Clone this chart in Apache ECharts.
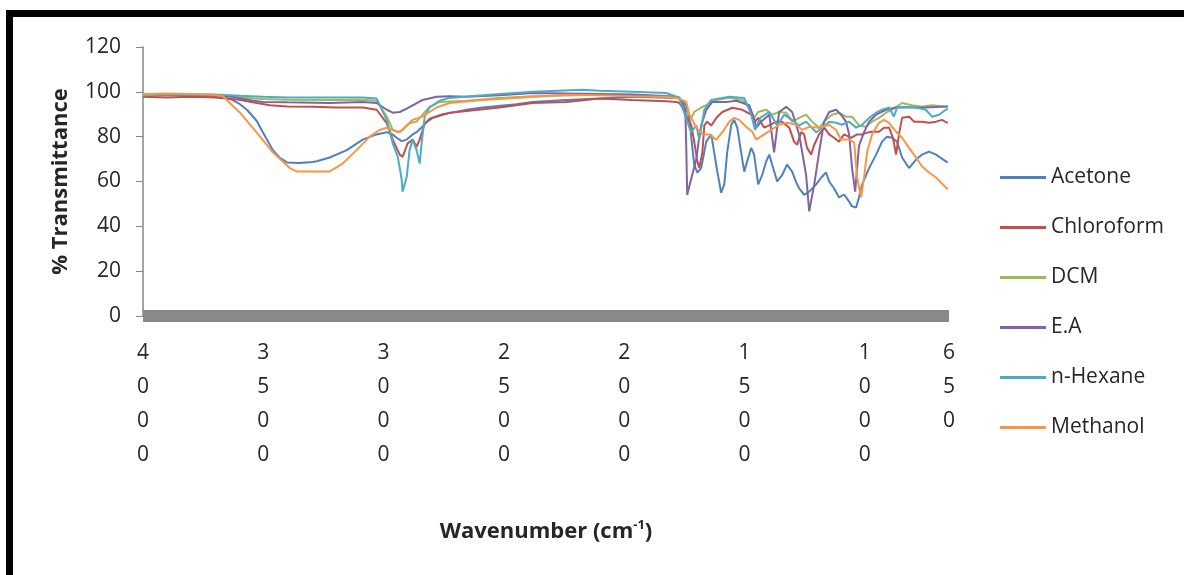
<!DOCTYPE html>
<html>
	<head>
		<meta charset="UTF-8">
		<title>FTIR</title>
		<script src="https://cdn.jsdelivr.net/npm/echarts@6/dist/echarts.min.js"></script>
		<style>
			html, body { margin: 0; padding: 0; background: #fff; }
		</style>
	</head>
	<body>
		<div id="main" style="width: 1184px;height:575px;"></div>
		<script type="text/javascript">
		// [wavenumber, % transmittance]
		var acetone = [[4000,98.5],[3900,98.6],[3800,98.3],[3700,97.8],[3639,97],[3597,94.5],[3568,92],[3527,87],[3502,82],[3460,74],[3431,70.5],[3402,68.5],[3350,68.2],[3294,68.7],[3278,69],[3224,70.7],[3153,74],[3087,78.7],[3029,81],[2987,82],[2962,81],[2946,79.5],[2925,78],[2904,78.7],[2879,81],[2863,82],[2838,84.5],[2809,88],[2755,90],[2726,90.5],[2655,92],[2589,93],[2448,94.5],[2381,95.5],[2240,96.4],[2103,97],[1966,97.8],[1854,97.5],[1783,97.3],[1771,97],[1742,94],[1729,88],[1721,79.5],[1709,67.5],[1696,64],[1680,66],[1659,77.8],[1638,81],[1626,73],[1613,64.4],[1597,55],[1584,58.7],[1572,73],[1555,85.3],[1543,87.5],[1530,84],[1514,73],[1501,64.4],[1489,68.9],[1472,75],[1460,72],[1443,58.7],[1426,63],[1410,68.9],[1397,72],[1385,67.5],[1364,60],[1343,63],[1323,67.5],[1302,64.4],[1285,59.6],[1273,57],[1252,54],[1231,55.5],[1202,58.7],[1181,61.8],[1161,64],[1148,60],[1128,57],[1107,52.9],[1086,54.2],[1065,51],[1053,48.9],[1036,48.4],[1024,53],[1011,58.7],[982,66],[953,72],[928,77.8],[908,80],[887,79.5],[866,77.8],[845,70.7],[816,66],[787,69.8],[762,72],[733,73.3],[704,72],[663,69],[655,68.5]];
		var chloroform = [[4000,97.8],[3900,97.5],[3800,97.8],[3700,97.5],[3600,96.5],[3527,95],[3473,94],[3400,93.5],[3294,93.3],[3200,93],[3087,93],[3029,92],[2987,86],[2962,78.7],[2933,72],[2921,71],[2900,77],[2879,78.7],[2863,75.5],[2850,78.7],[2829,86],[2796,88.4],[2726,90.7],[2655,91.5],[2518,93],[2381,95],[2240,95.5],[2103,97],[1966,96.4],[1825,95.8],[1783,95.5],[1771,95],[1758,93],[1738,88.4],[1721,85],[1709,77.8],[1696,69],[1688,66],[1675,73],[1667,85],[1655,86.7],[1638,85],[1617,88.4],[1592,91],[1551,92.9],[1509,92],[1472,89.8],[1456,86.7],[1443,88.4],[1418,84],[1397,85],[1368,86.7],[1343,86.7],[1314,84],[1294,77.8],[1281,76.4],[1265,82],[1252,81],[1240,75],[1223,72],[1210,76.4],[1190,81],[1169,84],[1148,81],[1128,79.5],[1107,77.8],[1086,81],[1057,79.5],[1032,81],[1011,81],[990,81.8],[970,82.2],[941,82.2],[920,84],[899,84],[883,79.5],[870,72],[858,81],[845,88.4],[816,88.9],[795,86.7],[762,86.7],[733,86.2],[704,86.7],[679,87.5],[659,86.2],[655,86.5]];
		var dcm = [[4000,98.5],[3900,99],[3800,98.8],[3700,98.5],[3600,97.5],[3500,96.8],[3400,96.5],[3224,96.4],[3087,96.5],[3029,96],[2987,89],[2962,83],[2941,82],[2921,83],[2892,86],[2863,86.7],[2838,89.8],[2809,93.3],[2767,95.5],[2655,96],[2518,97.3],[2381,98],[2103,98.7],[1966,98.5],[1812,97.8],[1771,97.3],[1758,95],[1738,91],[1721,88.4],[1709,91],[1680,93],[1659,94],[1617,96.4],[1563,97.3],[1509,96.4],[1480,92.9],[1460,88.4],[1443,91],[1410,92],[1385,89.8],[1356,91],[1327,90.7],[1302,86.7],[1273,88.4],[1244,89.8],[1219,86.7],[1190,84],[1161,87.5],[1136,89.8],[1107,90.7],[1078,88.9],[1053,88.9],[1024,85],[995,84.4],[970,86.7],[941,88.4],[912,90.7],[887,92],[845,95],[804,94],[762,93.3],[721,94],[663,93.3],[655,93.5]];
		var ea = [[4000,99],[3900,99],[3800,98.8],[3700,98.5],[3639,98],[3568,96.5],[3502,95.5],[3400,95.3],[3224,95],[3087,95.5],[3029,95],[2987,92],[2962,90.7],[2933,91],[2904,92.5],[2879,94],[2838,96.4],[2780,97.8],[2726,98],[2655,97.8],[2518,98.5],[2381,99.5],[2103,99],[1966,98.8],[1854,98.2],[1783,97.8],[1771,97.5],[1758,95],[1746,92],[1742,75],[1738,54],[1729,58],[1717,63],[1700,70],[1688,80],[1680,85],[1659,92],[1634,95.5],[1576,95.5],[1534,96],[1480,94],[1460,88],[1451,84],[1431,86.7],[1397,89.8],[1377,73],[1356,91],[1327,93.3],[1302,91],[1273,81],[1244,63],[1231,46.7],[1210,58.7],[1190,73],[1169,86.7],[1148,91],[1119,92],[1099,89.8],[1078,86.7],[1065,81],[1053,66],[1040,55.5],[1032,66],[1024,76],[1003,82],[982,86.7],[953,89.8],[912,92],[870,93],[816,93],[746,93],[663,93.5],[655,93.5]];
		var hexane = [[4000,98.8],[3900,99],[3800,98.8],[3700,98.8],[3600,98.2],[3500,97.8],[3400,97.5],[3224,97.5],[3087,97.5],[3029,97],[2987,87.5],[2962,77],[2941,71],[2925,61],[2921,55.5],[2904,62],[2892,74],[2879,78.7],[2863,74],[2850,68],[2842,77],[2829,89],[2809,93],[2767,96],[2726,97.3],[2589,98.5],[2381,100],[2174,100.9],[2103,100.5],[1966,100],[1825,99.5],[1783,97.8],[1771,97],[1742,88],[1729,84],[1721,82],[1700,85],[1688,78.7],[1667,92],[1638,96.4],[1563,97.8],[1501,97.3],[1472,89.8],[1456,83],[1435,88.4],[1397,91],[1364,85],[1335,89.8],[1302,87.5],[1273,85],[1244,86.7],[1202,82],[1177,84],[1148,86.7],[1119,86.2],[1095,85.3],[1065,86.7],[1036,84],[1011,85.3],[982,88.4],[953,90.7],[928,92],[899,93],[879,88.9],[866,93],[829,93.3],[787,93],[746,92],[721,88.9],[692,89.8],[663,92],[655,92.5]];
		var methanol = [[4000,99],[3900,99.3],[3800,99],[3700,98.7],[3668,98],[3597,90.7],[3527,81.8],[3460,73],[3390,66],[3361,64.5],[3294,64.5],[3224,64.5],[3170,68],[3112,74],[3058,80],[3016,83],[2987,84],[2962,83],[2933,82],[2904,85],[2879,87.5],[2838,89],[2780,93],[2726,95],[2589,96.4],[2448,97.3],[2240,98.7],[2103,98.5],[1966,98],[1825,97.8],[1771,97],[1742,95.5],[1729,89.8],[1700,84],[1675,81],[1646,81],[1617,78.7],[1592,82],[1563,86.7],[1543,88.4],[1522,87.5],[1493,84.4],[1468,82.2],[1451,78.7],[1418,81],[1389,83],[1356,85.3],[1323,86.2],[1285,85.3],[1260,83],[1231,84.4],[1190,84],[1148,85.3],[1119,83],[1099,78.7],[1065,78.7],[1044,77.3],[1032,61.8],[1015,53],[1003,61.8],[990,73.3],[970,81],[941,86.2],[920,87.5],[899,86.2],[870,82.2],[845,79.5],[816,75],[787,70.7],[762,66.7],[733,64],[704,61.8],[663,57.3],[655,56.5]];

		var seriesNames = ['Acetone', 'Chloroform', 'DCM', 'E.A', 'n-Hexane', 'Methanol'];
		var seriesData = [acetone, chloroform, dcm, ea, hexane, methanol];
		var colors = ['#4F81BD', '#C0504D', '#9BBB59', '#8064A2', '#4BACC6', '#F79646'];
		var xTicks = [4000, 3500, 3000, 2500, 2000, 1500, 1000, 650];
		var yTicks = [0, 20, 40, 60, 80, 100, 120];

		var font = 'Open Sans';
		var textColor = '#262626';

		var myChart = echarts.init(document.getElementById('main'));
		var series = [];
		for (var i = 0; i < seriesNames.length; i++) {
			series.push({
				name: seriesNames[i],
				type: 'line',
				data: seriesData[i],
				symbol: 'none',
				lineStyle: { width: 2 },
				color: colors[i]
			});
		}

		var option = {
			animation: false,
			color: colors,
			grid: { left: 143, top: 47, right: 235, bottom: 259 },
			legend: {
				orient: 'vertical',
				left: 995,
				top: 162,
				icon: 'rect',
				itemWidth: 46,
				itemHeight: 3,
				itemGap: 29,
				data: seriesNames,
				textStyle: { fontFamily: font, fontSize: 21, lineHeight: 21, color: textColor }
			},
			xAxis: {
				type: 'value',
				inverse: true,
				min: 650,
				max: 4000,
				offset: 5,
				name: '{a|Wavenumber (cm}{s|-1}{a|)}',
				nameLocation: 'middle',
				nameGap: 198,
				nameTextStyle: {
					rich: {
						a: { fontFamily: font, fontSize: 22, fontWeight: 'bold', color: textColor, lineHeight: 26 },
						s: { fontFamily: font, fontSize: 13, fontWeight: 'bold', color: textColor, lineHeight: 13, verticalAlign: 'top' }
					}
				},
				axisLine: { lineStyle: { color: '#898989', width: 12, cap: 'butt' } },
				axisTick: { show: false },
				splitLine: { show: false },
				axisLabel: {
					customValues: xTicks,
					margin: 15,
					fontFamily: font,
					fontSize: 21,
					lineHeight: 34,
					color: textColor,
					verticalAlign: 'top',
					formatter: function (v) { return String(v).split('').join('\n'); }
				}
			},
			yAxis: {
				type: 'value',
				min: yTicks[0],
				max: yTicks[yTicks.length - 1],
				interval: 20,
				name: '% Transmittance',
				nameLocation: 'middle',
				nameGap: 68,
				nameTextStyle: { fontFamily: font, fontSize: 22, fontWeight: 'bold', color: textColor, lineHeight: 26 },
				axisLine: { show: true, lineStyle: { color: '#868686', width: 1.5 } },
				axisTick: { show: true, length: 7, lineStyle: { color: '#868686' } },
				splitLine: { show: false },
				axisLabel: { margin: 22, fontFamily: font, fontSize: 21, color: textColor }
			},
			graphic: [{
				type: 'rect',
				silent: true,
				shape: { x: 9.5, y: 13.5, width: 1300, height: 700 },
				style: { fill: 'none', stroke: '#000', lineWidth: 7 }
			}],
			series: series
		};
		myChart.setOption(option);
		</script>
	</body>
</html>
